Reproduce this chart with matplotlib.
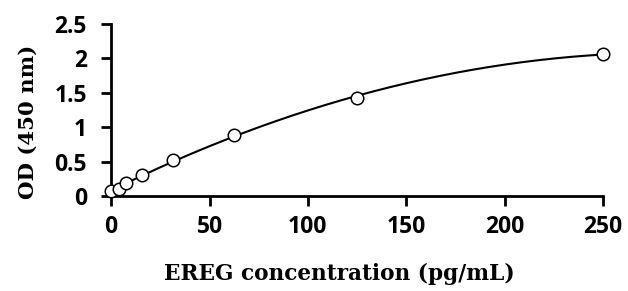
import matplotlib.pyplot as plt
import numpy as np

# standard curve data
conc = [0, 3.9, 7.8, 15.6, 31.25, 62.5, 125, 250]
od = [0.07, 0.11, 0.19, 0.31, 0.53, 0.88, 1.43, 2.06]
xticks = [0, 50, 100, 150, 200, 250]
yticks = [0, 0.5, 1, 1.5, 2, 2.5]
yticklabels = ["0", "0.5", "1", "1.5", "2", "2.5"]

# trendline (2nd order polynomial fit of the points)
coef = np.polyfit(conc, od, 2)
xs = np.linspace(0, 250, 300)
fit = np.polyval(coef, xs)

fig = plt.figure(figsize=(6.28, 2.91), dpi=100)
ax = fig.add_axes([0.177, 0.326, 0.783, 0.592])

ax.plot(xs, fit, color="black", lw=1.5, zorder=2)
ax.plot(conc, od, "o", mfc="white", mec="black", ms=9, mew=1.1, zorder=3,
        clip_on=False)

ax.set_xlim(0, 250)
ax.set_ylim(0, 2.5)
ax.set_xticks(xticks)
ax.set_yticks(yticks)
ax.set_yticklabels(yticklabels)

for s in ["top", "right"]:
    ax.spines[s].set_visible(False)
for s in ["left", "bottom"]:
    ax.spines[s].set_linewidth(2)
ax.tick_params(direction="out", width=2, length=7.5)
ax.xaxis.set_tick_params(pad=6)
ax.yaxis.set_tick_params(pad=10)
for lab in ax.get_xticklabels() + ax.get_yticklabels():
    lab.set_fontfamily("Open Sans")
    lab.set_fontweight("bold")
    lab.set_fontsize(16.5)

ax.set_xlabel("EREG concentration (pg/mL)", fontfamily="DejaVu Serif",
              fontweight="bold", fontsize=15.6, va="center")
ax.set_ylabel("OD (450 nm)", fontfamily="DejaVu Serif",
              fontweight="bold", fontsize=15.3, va="center")
ax.xaxis.set_label_coords(0.465, -0.45)
ax.yaxis.set_label_coords(-0.17, 0.43)

fig.savefig("out.png", dpi=100)
